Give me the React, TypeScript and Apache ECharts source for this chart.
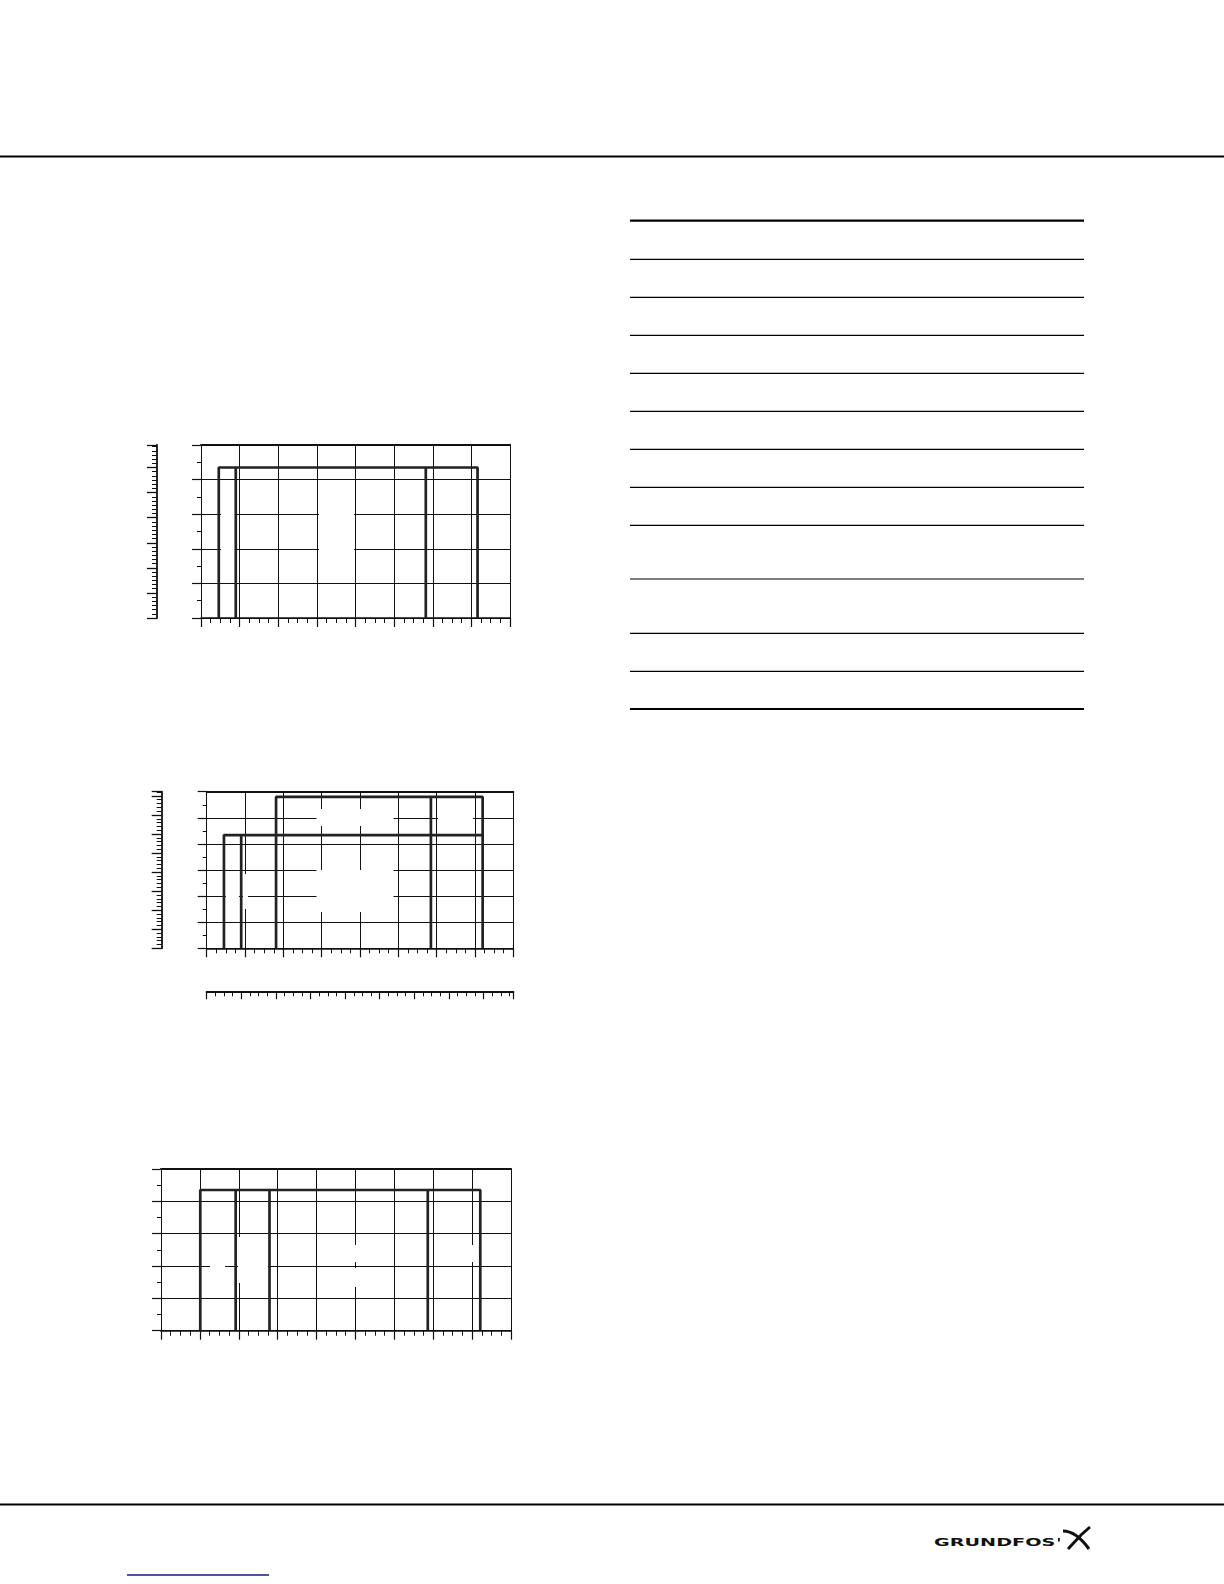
import React, { useEffect, useRef } from "react";
import * as echarts from "echarts";

// ---------- Chart 1 (upper) ----------
const c1XMax = 8;
const c1YMax = 5;
const c1SecYMax = 6.9;
const c1Outer = [[0.46, 0], [0.46, 4.35], [7.16, 4.35], [7.16, 0]];
const c1InnerA = [[0.9, 0], [0.9, 4.35]];
const c1InnerB = [[5.82, 0], [5.82, 4.35]];

// ---------- Chart 2 (middle) ----------
const c2XMax = 8;
const c2YMax = 6;
const c2SecYMax = 8.22;
const c2SecXMax = 8.86;
const c2OuterA = [[1.81, 0], [1.81, 5.8], [7.2, 5.8], [7.2, 0]];
const c2InnerA = [[5.85, 0], [5.85, 5.8]];
const c2OuterB = [[0.45, 0], [0.45, 4.34], [7.2, 4.34]];
const c2InnerB = [[0.9, 0], [0.9, 4.34]];

// ---------- Chart 3 (lower) ----------
const c3XMax = 9;
const c3YMax = 5;
const c3Outer = [[1.01, 0], [1.01, 4.35], [8.21, 4.35], [8.21, 0]];
const c3InnerA = [[1.92, 0], [1.92, 4.35]];
const c3InnerB = [[2.79, 0], [2.79, 4.35]];
const c3InnerC = [[6.86, 0], [6.86, 4.35]];

// ---------- Table rule positions (empty table) ----------
const tableRows = [220.7, 259.3, 297.3, 335.3, 373.3, 411.3, 449.3, 487.3, 525.3, 579, 633.3, 671.3, 709];

const ink = "#111";

function mainX(gridIndex: number, max: number) {
  return {
    type: "value", gridIndex, min: 0, max, interval: 1, position: "bottom",
    axisLine: { show: true, onZero: false, lineStyle: { color: ink, width: 1.5 } },
    axisTick: { show: true, length: 9, lineStyle: { color: ink, width: 1.2 } },
    minorTick: { show: true, splitNumber: 4, length: 5, lineStyle: { color: ink, width: 1 } },
    splitLine: { show: true, lineStyle: { color: ink, width: 1 } },
    axisLabel: { show: false },
  };
}
function topX(gridIndex: number, max: number) {
  return {
    type: "value", gridIndex, min: 0, max, position: "top",
    axisLine: { show: true, onZero: false, lineStyle: { color: ink, width: 2 } },
    axisTick: { show: false }, splitLine: { show: false }, axisLabel: { show: false },
  };
}
function secX(gridIndex: number, max: number, offset: number) {
  return {
    type: "value", gridIndex, min: 0, max, interval: 1, position: "bottom", offset,
    axisLine: { show: true, onZero: false, lineStyle: { color: ink, width: 2 } },
    axisTick: { show: true, length: 8, lineStyle: { color: ink, width: 1.2 } },
    minorTick: { show: true, splitNumber: 4, length: 5, lineStyle: { color: ink, width: 1 } },
    splitLine: { show: false }, axisLabel: { show: false },
  };
}
function mainY(gridIndex: number, max: number) {
  return {
    type: "value", gridIndex, min: 0, max, interval: 1, position: "left",
    axisLine: { show: true, onZero: false, lineStyle: { color: ink, width: 1 } },
    axisTick: { show: true, length: 9, lineStyle: { color: ink, width: 1.2 } },
    minorTick: { show: true, splitNumber: 2, length: 4, lineStyle: { color: ink, width: 1 } },
    splitLine: { show: true, lineStyle: { color: ink, width: 1 } },
    axisLabel: { show: false },
  };
}
function rightY(gridIndex: number, max: number) {
  return {
    type: "value", gridIndex, min: 0, max, position: "right",
    axisLine: { show: true, onZero: false, lineStyle: { color: ink, width: 1 } },
    axisTick: { show: false }, splitLine: { show: false }, axisLabel: { show: false },
  };
}
function secY(gridIndex: number, max: number, offset: number, minorSplit: number) {
  return {
    type: "value", gridIndex, min: 0, max, interval: 1, position: "left", offset,
    axisLine: { show: true, onZero: false, lineStyle: { color: ink, width: 1.8 } },
    axisTick: { show: true, length: 10, lineStyle: { color: ink, width: 1.3 } },
    minorTick: { show: true, splitNumber: minorSplit, length: 5, lineStyle: { color: ink, width: 1 } },
    splitLine: { show: false }, axisLabel: { show: false },
  };
}

function curve(data: number[][], xAxisIndex: number, yAxisIndex: number) {
  return {
    type: "line", data, xAxisIndex, yAxisIndex, symbol: "none", silent: true, z: 3,
    lineStyle: { color: "#222", width: 2.7 },
  };
}

function whiteBox(x: number, y: number, w: number, h: number) {
  return { type: "rect", z: 1, silent: true, shape: { x, y, width: w, height: h }, style: { fill: "#fff" } };
}

export default function App() {
  const ref = useRef<HTMLDivElement>(null);
  useEffect(() => {
    if (!ref.current) return;
    const chart = echarts.init(ref.current, undefined, { renderer: "svg" });

    const graphic: any[] = [];
    // header / footer rules
    graphic.push({ type: "line", z: 5, shape: { x1: 0, y1: 156.5, x2: 1224, y2: 156.5 }, style: { stroke: "#000", lineWidth: 2 } });
    graphic.push({ type: "line", z: 5, shape: { x1: 0, y1: 1504.5, x2: 1224, y2: 1504.5 }, style: { stroke: "#000", lineWidth: 2 } });
    // table rules
    tableRows.forEach((y, i) => {
      const thick = i === 0 || i === tableRows.length - 1;
      graphic.push({ type: "line", z: 5, shape: { x1: 630, y1: y, x2: 1084, y2: y }, style: { stroke: "#000", lineWidth: thick ? 2.2 : 1.2 } });
    });
    // link underline
    graphic.push({ type: "line", z: 5, shape: { x1: 127, y1: 1575, x2: 269, y2: 1575 }, style: { stroke: "#1a1a80", lineWidth: 1.5 } });
    // logo
    graphic.push({
      type: "text", z: 5, x: 934, y: 1543, scaleX: 1.92,
      style: { text: "GRUNDFOS", fill: "#111", fontSize: 10, fontWeight: "bold", fontFamily: "DejaVu Sans", verticalAlign: "middle", align: "left" },
    });
    graphic.push({ type: "rect", z: 5, shape: { x: 1058, y: 1538, width: 1.8, height: 3.5 }, style: { fill: "#111" } });
    graphic.push({ type: "bezierCurve", z: 5, shape: { x1: 1063, y1: 1531, cpx1: 1076, cpy1: 1531, x2: 1089, y2: 1549 }, style: { stroke: "#111", lineWidth: 3, fill: "none" } });
    graphic.push({ type: "polyline", z: 5, shape: { points: [[1090, 1527], [1081, 1535], [1068, 1549]] }, style: { stroke: "#111", lineWidth: 3, fill: "none" } });

    // gaps in gridlines (removed labels)
    graphic.push(whiteBox(319, 500, 35, 60));
    graphic.push(whiteBox(221, 505, 14, 50));
    graphic.push(whiteBox(316.5, 809, 77, 17));
    graphic.push(whiteBox(316.5, 870, 77, 42));
    graphic.push(whiteBox(438, 810, 35, 16));
    graphic.push(whiteBox(226, 889, 13, 15));
    graphic.push(whiteBox(243, 874, 5, 35));
    graphic.push(whiteBox(210, 1258, 15, 15));
    graphic.push(whiteBox(238, 1237, 30, 46));
    graphic.push(whiteBox(354, 1245, 5, 17));
    graphic.push(whiteBox(354, 1268, 5, 19));
    graphic.push(whiteBox(471, 1245, 5, 17));

    chart.setOption({
      animation: false,
      backgroundColor: "#fff",
      grid: [
        { left: 201, top: 445, width: 309, height: 173 },
        { left: 206.7, top: 791.7, width: 306.6, height: 156.6 },
        { left: 161, top: 1169, width: 350, height: 161.7 },
      ],
      xAxis: [
        mainX(0, c1XMax), topX(0, c1XMax),
        mainX(1, c2XMax), topX(1, c2XMax), secX(1, c2SecXMax, 43),
        mainX(2, c3XMax), topX(2, c3XMax),
      ],
      yAxis: [
        mainY(0, c1YMax), rightY(0, c1YMax), secY(0, c1SecYMax, 44, 6),
        mainY(1, c2YMax), rightY(1, c2YMax), secY(1, c2SecYMax, 45, 5),
        mainY(2, c3YMax), rightY(2, c3YMax),
      ],
      series: [
        curve(c1Outer, 0, 0), curve(c1InnerA, 0, 0), curve(c1InnerB, 0, 0),
        curve(c2OuterA, 2, 3), curve(c2InnerA, 2, 3), curve(c2OuterB, 2, 3), curve(c2InnerB, 2, 3),
        curve(c3Outer, 5, 6), curve(c3InnerA, 5, 6), curve(c3InnerB, 5, 6), curve(c3InnerC, 5, 6),
      ],
      graphic,
    });
    return () => chart.dispose();
  }, []);
  return <div ref={ref} style={{ position: "absolute", left: 0, top: 0, width: 1224, height: 1584 }} />;
}
